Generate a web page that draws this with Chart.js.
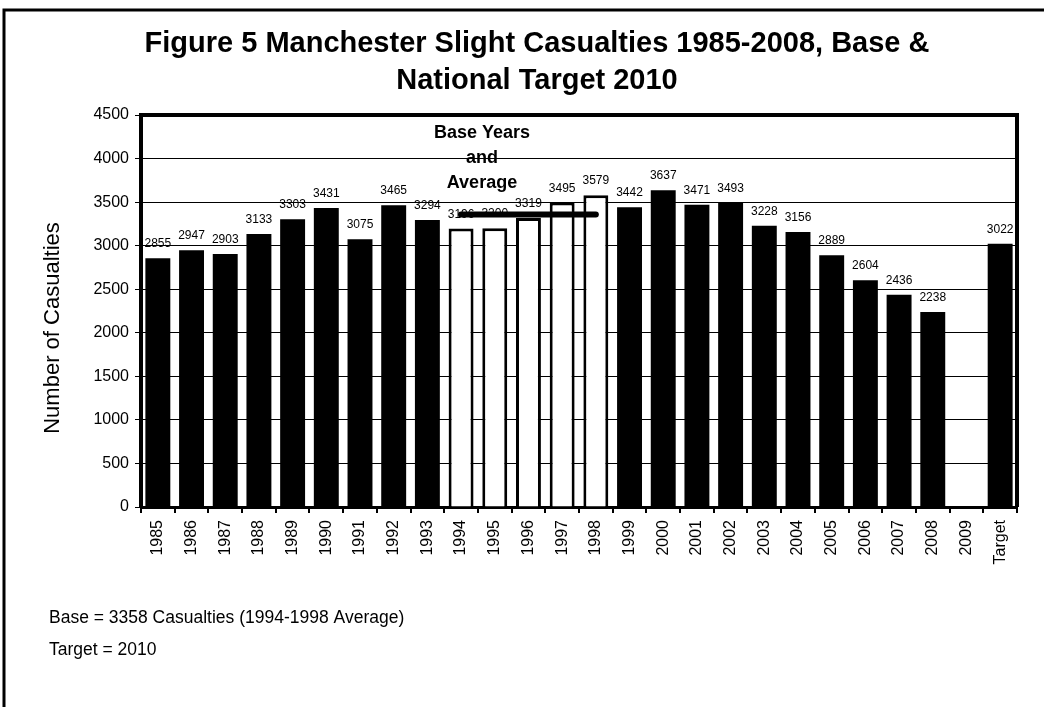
<!DOCTYPE html>
<html>
<head>
<meta charset="utf-8">
<script src="https://cdn.jsdelivr.net/npm/chart.js@4.4.1/dist/chart.umd.min.js"></script>
<style>
    html, body { margin: 0; padding: 0; background: #fff; }
    #wrap { width: 1044px; height: 707px; position: relative; }
</style>
</head>
<body>
<div id="wrap"><canvas id="myChart"></canvas></div>
<script>
const years = ['1985','1986','1987','1988','1989','1990','1991','1992','1993','1994','1995','1996','1997','1998',
    '1999','2000','2001','2002','2003','2004','2005','2006','2007','2008','2009','Target'];
const casualties = [2855, 2947, 2903, 3133, 3303, 3431, 3075, 3465, 3294, 3196, 3200, 3319, 3495, 3579,
    3442, 3637, 3471, 3493, 3228, 3156, 2889, 2604, 2436, 2238, null, 3022];
const baseYears = ['1994','1995','1996','1997','1998'];
const baseAverage = 3358;
const yTicks = [0, 500, 1000, 1500, 2000, 2500, 3000, 3500, 4000, 4500];

const FONT = '"Liberation Sans", Arial, sans-serif';

// colores: años base en blanco
const fills = years.map(y => baseYears.includes(y) ? '#ffffff' : '#000000');
const borders = years.map(y => baseYears.includes(y) ? 3 : 0);
const avgLine = years.map(y => baseYears.includes(y) ? baseAverage : null);

const extras = {
    id: 'extras',
    beforeDraw(chart) {
        const c = chart.ctx;
        const a = chart.chartArea;
        c.save();
        c.fillStyle = '#fff';
        c.fillRect(0, 0, chart.width, chart.height);
        // marco exterior
        c.strokeStyle = '#000';
        c.lineWidth = 3;
        c.beginPath();
        c.moveTo(4, 707);
        c.lineTo(4, 10);
        c.lineTo(1044, 10);
        c.stroke();
        // titulo
        c.fillStyle = '#000';
        c.textAlign = 'center';
        c.textBaseline = 'alphabetic';
        c.font = 'bold 29px ' + FONT;
        c.fillText('Figure 5 Manchester Slight Casualties 1985-2008, Base &', 537, 52);
        c.fillText('National Target 2010', 537, 89);
        // titulo eje y
        c.save();
        c.translate(53, 328);
        c.rotate(-Math.PI / 2);
        c.textBaseline = 'middle';
        c.font = '22px ' + FONT;
        c.fillText('Number of Casualties', 0, 0);
        c.restore();
        // notas
        c.textAlign = 'left';
        c.font = '17.5px ' + FONT;
        c.fillText('Base = 3358 Casualties (1994-1998 Average)', 49, 623);
        c.fillText('Target = 2010', 49, 655);
        c.restore();
    },
    afterDatasetsDraw(chart) {
        const c = chart.ctx;
        const a = chart.chartArea;
        const xs = chart.scales.x, ys = chart.scales.y;
        c.save();
        // valores sobre barras
        c.fillStyle = '#000';
        c.textAlign = 'center';
        c.textBaseline = 'alphabetic';
        c.font = '12px ' + FONT;
        chart.getDatasetMeta(0).data.forEach((bar, i) => {
            if (casualties[i] == null) return;
            c.fillText(String(casualties[i]), bar.x, bar.y - 11);
        });
        // texto años base
        c.font = 'bold 18px ' + FONT;
        const cx = xs.getPixelForValue(9.62);
        c.fillText('Base Years', cx, ys.getPixelForValue(4240));
        c.fillText('and', cx, ys.getPixelForValue(3952));
        c.fillText('Average', cx, ys.getPixelForValue(3665));
        // borde grueso del area
        c.strokeStyle = '#000';
        c.lineWidth = 4;
        c.beginPath();
        c.moveTo(a.left - 2, a.top);
        c.lineTo(a.right, a.top);
        c.lineTo(a.right, a.bottom);
        c.stroke();
        c.restore();
    }
};

const ctx = document.getElementById('myChart');
new Chart(ctx, {
    type: 'bar',
    data: {
        labels: years,
        datasets: [{
            label: 'Casualties',
            data: casualties,
            backgroundColor: fills,
            borderColor: '#000',
            borderWidth: borders,
            barPercentage: 0.74,
            categoryPercentage: 1,
            order: 2
        }, {
            type: 'line',
            label: 'Base average',
            data: avgLine,
            borderColor: '#000',
            borderWidth: 6,
            borderCapStyle: 'round',
            pointRadius: 0,
            fill: false,
            order: 1
        }]
    },
    options: {
        responsive: true,
        maintainAspectRatio: false,
        animation: false,
        devicePixelRatio: 1,
        layout: { padding: { left: 0, top: 115, right: 27, bottom: 0 } },
        plugins: {
            legend: { display: false },
            tooltip: { enabled: false },
            title: { display: false }
        },
        scales: {
            x: {
                offset: true,
                grid: { display: true, offset: true, drawOnChartArea: false, drawTicks: true, tickLength: 6, color: '#000', lineWidth: 2 },
                border: { display: true, color: '#000', width: 3 },
                ticks: { color: '#000', font: { family: FONT, size: 16 }, maxRotation: 90, minRotation: 90, padding: 7, autoSkip: false },
                afterFit(scale) { scale.height = 200; }
            },
            y: {
                min: 0,
                max: 4500,
                afterBuildTicks(scale) { scale.ticks = yTicks.map(v => ({ value: v })); },
                grid: { color: '#000', lineWidth: 1, drawTicks: true, tickLength: 6 },
                border: { display: true, color: '#000', width: 4 },
                ticks: { color: '#000', font: { family: FONT, size: 16 }, padding: 6, callback: v => String(v) },
                afterFit(scale) { scale.width = 141; }
            }
        }
    },
    plugins: [extras]
});
</script>
</body>
</html>
